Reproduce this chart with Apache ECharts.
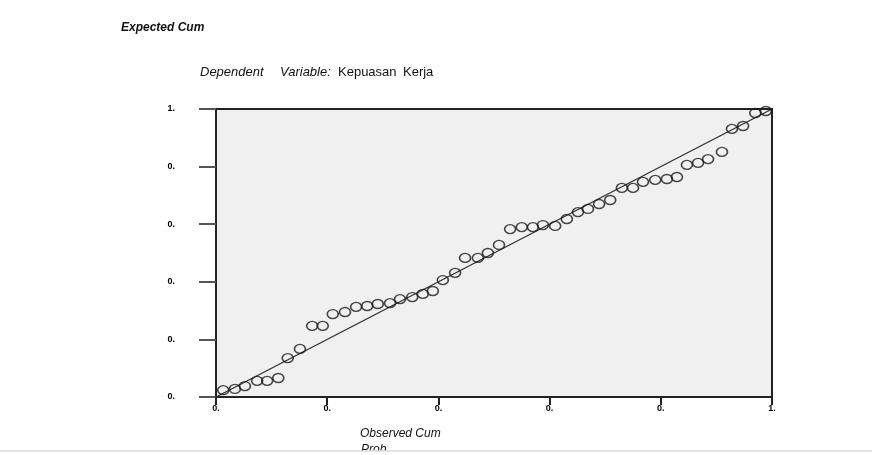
<!DOCTYPE html>
<html>
<head>
<meta charset="utf-8">
<script src="https://cdn.jsdelivr.net/npm/echarts@6/dist/echarts.min.js"></script>
<style>html,body{margin:0;padding:0;background:#fff}#c{width:872px;height:455px}</style>
</head>
<body>
<div id="c"></div>
<script>
// Observed cumulative probability (x) and expected cumulative probability (y)
const observedCum = [0.013,0.034,0.052,0.074,0.092,0.112,0.129,0.151,0.173,0.192,
  0.210,0.232,0.252,0.272,0.291,0.313,0.331,0.353,0.372,0.390,
  0.408,0.430,0.448,0.471,0.489,0.509,0.529,0.550,0.570,0.588,
  0.610,0.631,0.651,0.669,0.689,0.709,0.730,0.750,0.768,0.790,
  0.811,0.829,0.847,0.867,0.885,0.910,0.928,0.948,0.970,0.989];
const expectedCum = [0.024,0.028,0.038,0.056,0.056,0.066,0.135,0.167,0.247,0.247,
  0.288,0.295,0.313,0.316,0.323,0.326,0.340,0.347,0.358,0.368,
  0.406,0.431,0.483,0.483,0.500,0.528,0.583,0.590,0.590,0.597,
  0.594,0.618,0.642,0.653,0.670,0.684,0.726,0.726,0.747,0.754,
  0.757,0.764,0.806,0.813,0.826,0.851,0.931,0.941,0.986,0.993];
const diagonal = [[0,0],[1,1]];
const xTickLabels = ['0.','0.','0.','0.','0.','1.'];
const yTickLabels = ['0.','0.','0.','0.','0.','1.'];

const chart = echarts.init(document.getElementById('c'));
const points = observedCum.map((x,i)=>[x, expectedCum[i]]);
const fontFam = '"Liberation Sans", Arial, sans-serif';
chart.setOption({
  animation:false,
  backgroundColor:'#fff',
  grid:{left:216,right:100,top:109,bottom:58,show:true,backgroundColor:'#f0f0f0',borderColor:'#222',borderWidth:2},
  xAxis:{type:'value',min:0,max:1,interval:0.2,
    axisLine:{show:true,onZero:false,lineStyle:{color:'#222',width:2}},
    axisTick:{show:true,inside:false,length:8,lineStyle:{color:'#222',width:2}},
    splitLine:{show:false},
    axisLabel:{margin:7,fontSize:9,fontWeight:'bold',color:'#000',fontFamily:fontFam,
      formatter:(v)=>xTickLabels[Math.round(v/0.2)]}},
  yAxis:{type:'value',min:0,max:1,interval:0.2,
    axisLine:{show:true,onZero:false,lineStyle:{color:'#222',width:2}},
    axisTick:{show:true,inside:false,length:17,lineStyle:{color:'#555',width:2}},
    splitLine:{show:false},
    axisLabel:{margin:41,fontSize:9,fontWeight:'bold',color:'#000',fontFamily:fontFam,
      formatter:(v)=>yTickLabels[Math.round(v/0.2)]}},
  series:[
    {type:'line',data:diagonal,symbol:'none',lineStyle:{color:'#333',width:1.4},silent:true,z:2},
    {type:'scatter',data:points,symbol:'circle',symbolSize:[11,9],
      itemStyle:{color:'rgba(0,0,0,0)',borderColor:'#1a1a1a',borderWidth:1.5},z:3}
  ],
  graphic:[
    {type:'text',left:121,top:22,style:{text:'Expected Cum',font:'italic bold 12px '+fontFam,fill:'#111'}},
    {type:'text',left:200,top:66,style:{text:'Dependent',font:'italic 13px '+fontFam,fill:'#111'}},
    {type:'text',left:280,top:66,style:{text:'Variable:',font:'italic 13px '+fontFam,fill:'#111'}},
    {type:'text',left:338,top:66,style:{text:'Kepuasan',font:'13px '+fontFam,fill:'#111'}},
    {type:'text',left:403,top:66,style:{text:'Kerja',font:'13px '+fontFam,fill:'#111'}},
    {type:'text',left:360,top:428,style:{text:'Observed Cum',font:'italic 12px '+fontFam,fill:'#111'}},
    {type:'text',left:361,top:444,style:{text:'Prob',font:'italic 12px '+fontFam,fill:'#111'}},
    {type:'rect',shape:{x:0,y:451,width:872,height:4},style:{fill:'#fff'},z:10},
    {type:'line',shape:{x1:0,y1:451,x2:872,y2:451},style:{stroke:'#ddd',lineWidth:1.5},z:11}
  ]
});
</script>
</body>
</html>
